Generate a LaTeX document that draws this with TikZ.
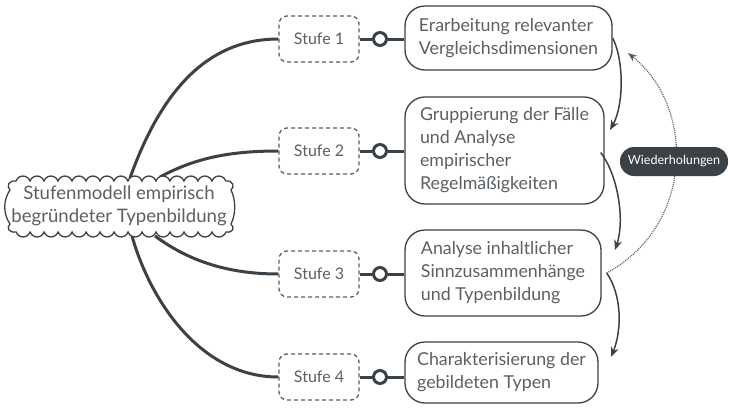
\documentclass[tikz,border=0pt]{standalone}
\usepackage{fontspec}
\setmainfont{Lato}
\usetikzlibrary{arrows.meta,calc}
\definecolor{ink}{HTML}{3B4247}
\definecolor{txt}{HTML}{5B6064}

\begin{document}
\begin{tikzpicture}[x=1pt,y=1pt,
  every node/.style={text=txt, font=\fontsize{16}{22.5}\selectfont},
  stage/.style={draw=txt, fill=white, line width=1.3pt, dash pattern=on 4pt off 3pt,
    rounded corners=8pt, minimum width=80pt, minimum height=46pt, inner sep=0pt},
  ring/.style={circle, draw=ink, line width=3pt, fill=white, minimum size=13pt, inner sep=0pt},
  topic/.style={draw=ink, fill=white, line width=1.3pt, rounded corners=20pt,
    align=left, inner sep=0pt, font=\fontsize{17.8}{23}\selectfont},
  branch/.style={draw=ink, line width=3pt},
  flow/.style={draw=ink, line width=1.5pt, -{Stealth[length=10pt,width=8pt]}},
  loopline/.style={draw=txt, line width=1.2pt, dash pattern=on 1pt off 1pt,
    -{Stealth[length=9pt,width=7pt]}},
  tag/.style={fill=ink, text=white, rounded corners=14pt, minimum width=108pt,
    minimum height=29pt, font=\fontsize{12.6}{14}\selectfont, inner sep=0pt}
]
\useasboundingbox[fill=white] (0,0) rectangle (729,-410);

% stages
\node[stage] (s1) at (319,-39)  {Stufe 1};
\node[stage] (s2) at (319,-151) {Stufe 2};
\node[stage] (s3) at (319,-274) {Stufe 3};
\node[stage] (s4) at (319,-377) {Stufe 4};

% rings between stage and topic
\node[ring] (c1) at (380,-39)  {};
\node[ring] (c2) at (380,-151) {};
\node[ring] (c3) at (380,-274) {};
\node[ring] (c4) at (380,-377) {};

% topics
\node[topic, minimum width=207pt, minimum height=64pt] (b1) at (508.5,-38)
  {Erarbeitung relevanter\\Vergleichsdimensionen};
\node[topic, minimum width=199pt, minimum height=107pt] (b2) at (504.5,-150.5)
  {Gruppierung der Fälle\\und Analyse\\empirischer\\Regelmäßigkeiten};
\node[topic, minimum width=196pt, minimum height=86pt] (b3) at (503,-273)
  {Analyse inhaltlicher\\Sinnzusammenhänge\\und Typenbildung};
\node[topic, minimum width=193pt, minimum height=61pt] (b4) at (501.5,-372.5)
  {Charakterisierung der\\gebildeten Typen};

\foreach \i in {1,...,4} {
  \draw[branch] (s\i.east) -- (c\i) -- (c\i -| b\i.west);
}

% branches leaving the central cloud
\coordinate (k1) at (130,-178);
\coordinate (k2) at (160,-177);
\coordinate (k3) at (155,-236);
\coordinate (k4) at (132,-236);
\draw[branch] (k1) .. controls (165,-80) and (215,-39) .. (s1.west);
\draw[branch] (k2) .. controls (195,-158) and (230,-151) .. (s2.west);
\draw[branch] (k3) .. controls (190,-262) and (230,-274) .. (s3.west);
\draw[branch] (k4) .. controls (150,-300) and (200,-377) .. (s4.west);

% central cloud outline
\draw[draw=ink, fill=white, line width=1.3pt]
  (16,-181)
  \foreach \i in {1,...,15} { arc[start angle=161, end angle=19, radius=7.4] }
  .. controls (233,-180) and (235,-187) .. (231,-190)
  .. controls (236,-200) and (236,-214) .. (231,-224)
  .. controls (235,-228) and (233,-233) .. (226,-232)
  \foreach \i in {1,...,15} { arc[start angle=341, end angle=199, radius=7.4] }
  .. controls (9,-233) and (6,-228) .. (10,-224)
  .. controls (3,-214) and (3,-200) .. (10,-190)
  .. controls (6,-186) and (9,-180) .. (16,-181) -- cycle;
\node[align=center, font=\fontsize{18.6}{23}\selectfont] (root) at (119,-206)
  {Stufenmodell empirisch\\begründeter Typenbildung};

% sequence arrows
\coordinate (r1) at ($(b1.east)+(0,0)$);
\coordinate (r2) at ($(b2.east)+(-4,-2)$);
\coordinate (r3) at ($(b3.east)+(5,0)$);
\draw[flow] (r1) .. controls (624,-60) and (624,-105) .. (610,-130);
\draw[flow] (r2) .. controls (618,-175) and (625,-220) .. (615,-250);
\draw[flow] (r3) .. controls (622,-295) and (622,-330) .. (611,-357);

% repetition loop
\coordinate (q) at (628,-53);
\draw[loopline] (r3) .. controls (695,-225) and (695,-106) .. (q);
\node[tag] (w) at (674,-161.5) {Wiederholungen};
\end{tikzpicture}
\end{document}
